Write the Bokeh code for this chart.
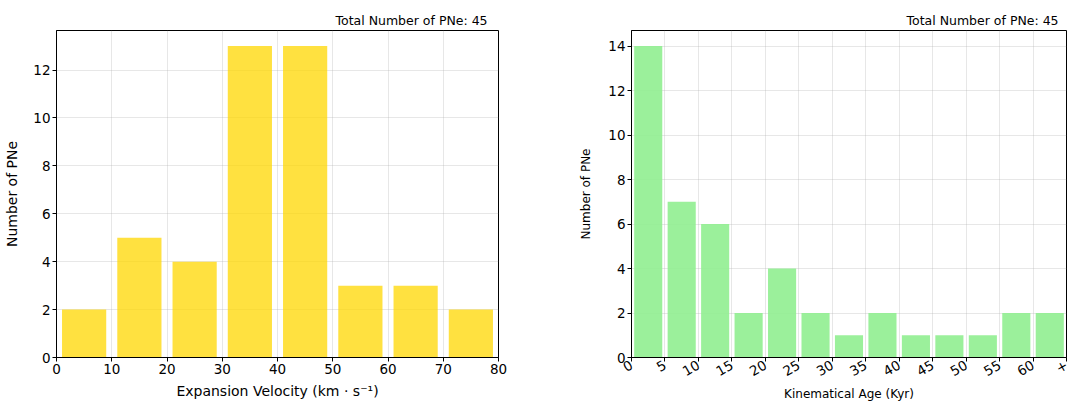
import math
from bokeh.plotting import figure
from bokeh.layouts import row
from bokeh.models import FixedTicker, Range1d
from bokeh.embed import file_html
from bokeh.resources import INLINE

# Left histogram: expansion velocity
vel_centers = [5, 15, 25, 35, 45, 55, 65, 75]
vel_counts = [2, 5, 4, 13, 13, 3, 3, 2]
vel_ticks = [0, 10, 20, 30, 40, 50, 60, 70, 80]

# Right histogram: kinematical age
age_centers = [2.5, 7.5, 12.5, 17.5, 22.5, 27.5, 32.5, 37.5, 42.5, 47.5, 52.5, 57.5, 62.5]
age_counts = [14, 7, 6, 2, 4, 2, 1, 2, 1, 1, 1, 2, 2]
age_ticks = [0, 5, 10, 15, 20, 25, 30, 35, 40, 45, 50, 55, 60, 65]
age_tick_labels = ["0", "5", "10", "15", "20", "25", "30", "35", "40", "45", "50", "55", "60", "+"]

title_text = "Total Number of PNe: 45"
FONT = "DejaVu Sans"


def style(p, label_size, title_offset):
    p.outline_line_color = "black"
    p.outline_line_width = 1
    for ax in (p.xaxis, p.yaxis):
        ax.axis_line_color = "black"
        ax.major_tick_line_color = "black"
        ax.major_tick_out = 4
        ax.major_tick_in = 0
        ax.minor_tick_line_color = None
        ax.major_label_text_font = FONT
        ax.major_label_text_font_size = "13.5px"
        ax.major_label_text_color = "black"
        ax.major_label_standoff = 2
        ax.axis_label_text_font = FONT
        ax.axis_label_text_font_style = "normal"
        ax.axis_label_text_color = "black"
        ax.axis_label_text_font_size = label_size
    p.grid.grid_line_color = "#b0b0b0"
    p.grid.grid_line_alpha = 0.3
    p.grid.grid_line_width = 1
    p.title.text_font = FONT
    p.title.text_font_style = "normal"
    p.title.text_font_size = "12.5px"
    p.title.text_color = "black"
    p.title.align = "left"
    p.title.offset = title_offset
    p.title.standoff = 5


p1 = figure(width=548, height=404, output_backend="svg", toolbar_location=None,
            x_range=Range1d(0, 80), y_range=Range1d(0, 13.65), title=title_text,
            min_border_left=56, min_border_right=50, min_border_top=30, min_border_bottom=47)
p1.vbar(x=vel_centers, top=vel_counts, width=8, bottom=0,
        fill_color="#FFD700", fill_alpha=0.75, line_color=None)
p1.xaxis.ticker = FixedTicker(ticks=vel_ticks)
p1.yaxis.ticker = FixedTicker(ticks=[0, 2, 4, 6, 8, 10, 12])
p1.xaxis.axis_label = "Expansion Velocity (km · s⁻¹)"
p1.yaxis.axis_label = "Number of PNe"
style(p1, "14px", 279)
p1.xaxis.axis_label_standoff = 6
p1.yaxis.axis_label_standoff = 10

p2 = figure(width=523, height=404, output_backend="svg", toolbar_location=None,
            x_range=Range1d(0, 65), y_range=Range1d(0, 14.7), title=title_text,
            min_border_left=83, min_border_right=5, min_border_top=30, min_border_bottom=47)
p2.vbar(x=age_centers, top=age_counts, width=4.2, bottom=0,
        fill_color="#90EE90", fill_alpha=0.9, line_color=None)
p2.xaxis.ticker = FixedTicker(ticks=age_ticks)
p2.xaxis.major_label_overrides = {t: l for t, l in zip(age_ticks, age_tick_labels)}
p2.yaxis.ticker = FixedTicker(ticks=[0, 2, 4, 6, 8, 10, 12, 14])
p2.xaxis.axis_label = "Kinematical Age (Kyr)"
p2.yaxis.axis_label = "Number of PNe"
style(p2, "12px", 275)
p2.xaxis.major_label_orientation = math.radians(30)
p2.xaxis.axis_label_standoff = 3
p2.yaxis.axis_label_standoff = 12

layout = row(p1, p2)
open("out.html", "w").write(file_html(layout, INLINE))
